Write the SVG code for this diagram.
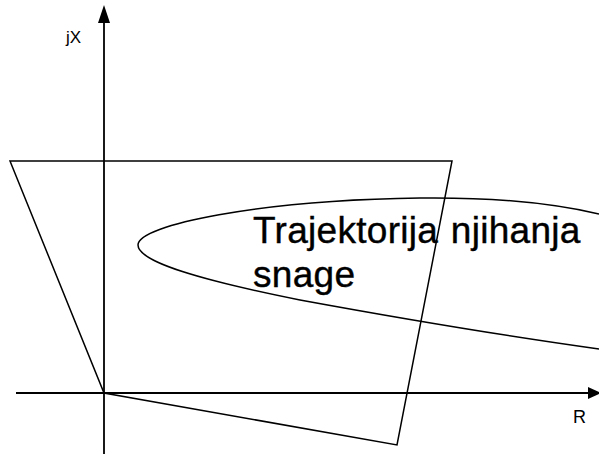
<svg xmlns="http://www.w3.org/2000/svg" width="599" height="454" viewBox="0 0 599 454">
<style>
.ln{fill:none;stroke:#000;stroke-width:1.5}
.ax{fill:none;stroke:#000;stroke-width:1.8}
.lbl{font-family:"Liberation Sans",Arial,sans-serif;fill:#000}
</style>
<rect width="599" height="454" fill="#fff"/>
<g id="axes">
<line class="ax" x1="16" y1="393" x2="592" y2="393"/>
<polygon points="601,393 588,387 588,399" fill="#000"/>
<line class="ax" x1="104" y1="455" x2="104" y2="18"/>
<polygon points="104,5 98,23 110,23" fill="#000"/>
<text class="lbl" x="66" y="43" font-size="17">jX</text>
<text class="lbl" x="573" y="423" font-size="18">R</text>
</g>
<g id="zone">
<polygon class="ln" points="10,161 452,161 397,445 104,393"/>
</g>
<g id="trajectory">
<path class="ln" d="M 599,214 C 560,205 500,197 420,198 C 260,200 138,225 138,245 C 138,262 200,280 300,300 C 420,322 520,338 599,349"/>
<text class="lbl" x="253" y="243" font-size="37" word-spacing="2" letter-spacing="0.3" stroke="#000" stroke-width="0.4">Trajektorija njihanja</text>
<text class="lbl" x="253" y="287" font-size="37" letter-spacing="0.3" stroke="#000" stroke-width="0.4">snage</text>
</g>
</svg>
